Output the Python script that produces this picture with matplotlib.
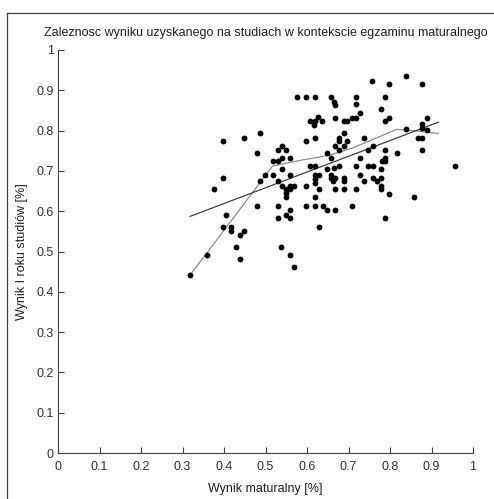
import numpy as np
import matplotlib.pyplot as plt
from matplotlib.lines import Line2D

plt.rcParams['font.family'] = ['Liberation Sans', 'DejaVu Sans']

# scatter: exam result vs first-year result
matura = [0.839, 0.757, 0.798, 0.877,
          0.577, 0.598, 0.619, 0.658, 0.717, 0.787,
          0.666, 0.667, 0.717, 0.778, 0.728,
          0.888, 0.798, 0.667, 0.708, 0.717, 0.627,
          0.607, 0.619, 0.637, 0.688, 0.697, 0.787,
          0.618, 0.877, 0.877, 0.888, 0.839,
          0.688, 0.487,
          0.619, 0.678, 0.738, 0.868, 0.877, 0.449,
          0.598, 0.678, 0.697, 0.398,
          0.667, 0.688, 0.758, 0.539,
          0.678, 0.748, 0.787, 0.877, 0.529, 0.549,
          0.649, 0.816, 0.479,
          0.658, 0.728, 0.787, 0.539, 0.559,
          0.780, 0.787, 0.519, 0.529,
          0.607, 0.619, 0.678, 0.717, 0.748, 0.758, 0.957,
          0.666, 0.649, 0.778, 0.539,
          0.619, 0.628, 0.658, 0.728, 0.499, 0.519, 0.559,
          0.658, 0.667, 0.688, 0.758, 0.778, 0.398,
          0.619, 0.619,
          0.688, 0.738, 0.768, 0.487, 0.529, 0.663,
          0.598, 0.778, 0.539, 0.559, 0.569,
          0.628, 0.667, 0.688, 0.717, 0.778, 0.377, 0.549, 0.559,
          0.798, 0.549, 0.619, 0.859, 0.549,
          0.479, 0.529, 0.598, 0.619, 0.638, 0.708,
          0.649, 0.667, 0.559,
          0.406, 0.549, 0.529, 0.559, 0.787,
          0.398, 0.418, 0.629, 0.418, 0.449, 0.438,
          0.428, 0.538, 0.438, 0.559, 0.358, 0.569, 0.318]
studia = [0.935, 0.923, 0.915, 0.915,
          0.883, 0.883, 0.883, 0.883, 0.883, 0.883,
          0.872, 0.864, 0.865, 0.853, 0.844,
          0.832, 0.832, 0.832, 0.832, 0.832, 0.833,
          0.824, 0.824, 0.824, 0.824, 0.824, 0.824,
          0.814, 0.816, 0.806, 0.801, 0.804,
          0.795, 0.795,
          0.782, 0.782, 0.782, 0.782, 0.782, 0.782,
          0.774, 0.774, 0.774, 0.774,
          0.762, 0.762, 0.762, 0.762,
          0.753, 0.753, 0.753, 0.753, 0.753, 0.753,
          0.744, 0.744, 0.744,
          0.733, 0.733, 0.733, 0.733, 0.733,
          0.725, 0.725, 0.725, 0.725,
          0.712, 0.712, 0.712, 0.712, 0.712, 0.712, 0.712,
          0.707, 0.704, 0.704, 0.704,
          0.691, 0.691, 0.691, 0.691, 0.691, 0.691, 0.691,
          0.683, 0.683, 0.683, 0.683, 0.683, 0.683,
          0.679, 0.669,
          0.674, 0.674, 0.674, 0.674, 0.674, 0.674,
          0.663, 0.663, 0.663, 0.663, 0.663,
          0.654, 0.654, 0.654, 0.654, 0.654, 0.654, 0.654, 0.654,
          0.642, 0.644, 0.634, 0.634, 0.634,
          0.612, 0.612, 0.612, 0.612, 0.612, 0.612,
          0.602, 0.602, 0.602,
          0.591, 0.591, 0.583, 0.583, 0.583,
          0.562, 0.562, 0.562, 0.552, 0.552, 0.541,
          0.512, 0.512, 0.482, 0.491, 0.491, 0.462, 0.441]

# linear trend and smoothed curve
trend_x = [0.318, 0.917]
trend_y = [0.587, 0.821]
smooth_x = [0.318, 0.517, 0.583, 0.655, 0.71, 0.816, 0.855, 0.917]
smooth_y = [0.441, 0.712, 0.726, 0.739, 0.757, 0.803, 0.800, 0.793]

ticks = [0, 0.1, 0.2, 0.3, 0.4, 0.5, 0.6, 0.7, 0.8, 0.9, 1]
tick_labels = ['0', '0.1', '0.2', '0.3', '0.4', '0.5', '0.6', '0.7', '0.8', '0.9', '1']

fig = plt.figure(figsize=(4.94, 4.99), dpi=100)
ax = fig.add_axes([58 / 494, 46 / 499, 415 / 494, 403 / 499])

ax.plot(smooth_x, smooth_y, color='#8c8c8c', lw=0.9)
ax.plot(trend_x, trend_y, color='#404040', lw=0.9)
ax.plot(matura, studia, 'o', color='black', ms=4.2, mew=0)

ax.set_xlim(0, 1)
ax.set_ylim(0, 1)
ax.set_xticks(ticks)
ax.set_xticklabels(tick_labels)
ax.set_yticks(ticks)
ax.set_yticklabels(tick_labels)
ax.tick_params(direction='in', length=4, width=0.8, colors='#404040',
               labelcolor='#303030', labelsize=9, pad=3)
ax.tick_params(axis='x', pad=6)
for s in ['top', 'right']:
    ax.spines[s].set_visible(False)
for s in ['left', 'bottom']:
    ax.spines[s].set_color('#404040')
    ax.spines[s].set_linewidth(0.8)

ax.set_title('Zaleznosc wyniku uzyskanego na studiach w kontekscie egzaminu maturalnego',
             fontsize=9, color='#202020', pad=10)
ax.set_xlabel('Wynik maturalny [%]', fontsize=9, color='#202020', labelpad=7)
ax.set_ylabel('Wynik I roku studiów [%]', fontsize=9, color='#202020', labelpad=6)

# window frame
fx = 7 / 494
fy = 1 - 13 / 499
fig.add_artist(Line2D([fx, fx], [0, fy], transform=fig.transFigure, color='#404040', lw=0.9))
fig.add_artist(Line2D([fx, 1], [fy, fy], transform=fig.transFigure, color='#404040', lw=0.9))

fig.savefig('out.png', dpi=100)
